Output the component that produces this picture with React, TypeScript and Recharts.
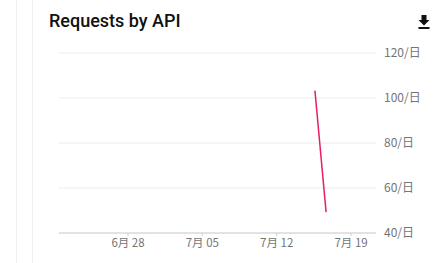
import React from "react";
import { LineChart, Line, XAxis, YAxis, CartesianGrid } from "recharts";

// day numbers counted from Jun 1 (Jun 28 = 27, Jul 19 = 48)
const tickDays = [27, 34, 41, 48];
const tickLabels = ["6月 28", "7月 05", "7月 12", "7月 19"];
const pointDays = [44.6, 45.65];
const requestsPerDay = [103.3, 49.3];
const yTicks = [40, 60, 80, 100, 120];

const data = pointDays.map((d, i) => ({ day: d, value: requestsPerDay[i] }));

const fmtX = (v: number) => {
  const i = tickDays.indexOf(v);
  return i >= 0 ? tickLabels[i] : "";
};

export default function App() {
  return (
    <div
      style={{
        position: "absolute",
        left: 0,
        top: 0,
        width: 433,
        height: 263,
        background: "#fff",
        overflow: "hidden",
      }}
    >
      <div style={{ position: "absolute", left: 16, top: 0, width: 1, height: 263, background: "#efefef" }} />
      <div style={{ position: "absolute", left: 32, top: 0, width: 1, height: 263, background: "#efefef" }} />
      <div
        style={{
          position: "absolute",
          left: 49,
          top: 10,
          fontFamily: "Roboto, sans-serif",
          fontWeight: 500,
          fontSize: 18,
          color: "#111",
          whiteSpace: "nowrap",
        }}
      >
        Requests by API
      </div>
      <svg style={{ position: "absolute", left: 418, top: 15 }} width={12} height={14}>
        <path d="M3.5 0 H8.5 V5 H11.5 L6 10.5 L0.5 5 H3.5 Z" fill="#111" />
        <rect x={0.5} y={12} width={11} height={2} fill="#111" />
      </svg>
      <div style={{ position: "absolute", left: 0, top: 0 }}>
        <LineChart
          width={433}
          height={263}
          data={data}
          margin={{ top: 53, left: 59, right: 7, bottom: 0 }}
        >
          <CartesianGrid vertical={false} stroke="#ececec" />
          <XAxis
            dataKey="day"
            type="number"
            domain={[20.5, 50.35]}
            ticks={tickDays}
            tickFormatter={fmtX}
            allowDataOverflow
            height={30}
            axisLine={{ stroke: "#d0d0d0" }}
            tickLine={{ stroke: "#d0d0d0" }}
            tickSize={3}
            tickMargin={3}
            tick={{ fill: "#757575", fontSize: 11.5, fontFamily: "'Noto Sans CJK JP', sans-serif" }}
          />
          <YAxis
            orientation="right"
            type="number"
            domain={[40, 120]}
            ticks={yTicks}
            width={50}
            axisLine={false}
            tickLine={false}
            tickFormatter={(v: number) => `${v}/日`}
            tick={{ fill: "#757575", fontSize: 12, fontFamily: "'Noto Sans CJK JP', sans-serif", textAnchor: "start" }}
          />
          <Line
            dataKey="value"
            stroke="#e91e63"
            strokeWidth={1.5}
            dot={false}
            isAnimationActive={false}
          />
        </LineChart>
      </div>
    </div>
  );
}
